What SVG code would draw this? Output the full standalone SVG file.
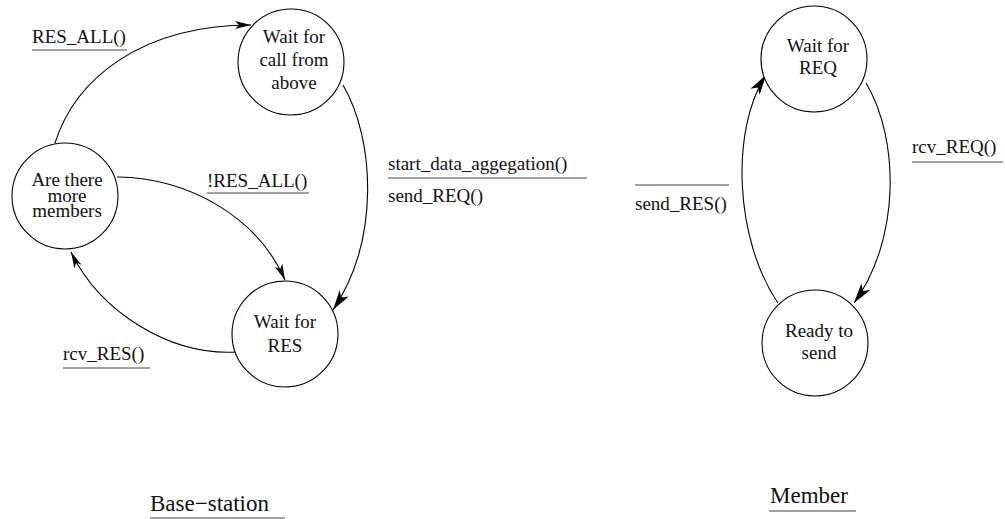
<svg xmlns="http://www.w3.org/2000/svg" width="1005" height="519" viewBox="0 0 1005 519">
  <style>
    text { font-family: "Liberation Serif", "Times New Roman", serif; font-size: 19px; fill: #111; }
    .title { font-size: 23px; }
    .state circle { fill: #fff; stroke: #000; stroke-width: 1.1; }
    .state text { text-anchor: middle; }
    .edge { fill: none; stroke: #000; stroke-width: 1.1; }
    .small { marker-end: url(#arrowS); }
    .big { marker-end: url(#arrowL); }
    .rule { stroke: #444; stroke-width: 1.2; }
  </style>
  <defs>
    <marker id="arrowS" markerUnits="userSpaceOnUse" markerWidth="24" markerHeight="16" refX="0" refY="0" viewBox="-20 -8 24 16" orient="auto">
      <path d="M0,0 L-16,-4 L-12,0 L-16,4 Z" fill="#000"/>
    </marker>
    <marker id="arrowL" markerUnits="userSpaceOnUse" markerWidth="28" markerHeight="20" refX="0" refY="0" viewBox="-24 -10 28 20" orient="auto">
      <path d="M0,0 L-20,-5.5 L-15,0 L-20,5.5 Z" fill="#000"/>
    </marker>
  </defs>

  <!-- transitions -->
  <g id="connectors">
    <path class="edge small" d="M55,143 C75,80 140,25 251,25"/>
    <path class="edge big" d="M343,85 C375,140 380,240 333,310"/>
    <path class="edge small" d="M117,177 C190,178 258,218 285,280"/>
    <path class="edge small" d="M237,352 C170,356 100,312 71,252"/>
    <path class="edge big" d="M866,83 C900,140 900,240 854,303"/>
    <path class="edge big" d="M778,303 C735,240 730,130 766,75"/>
  </g>

  <!-- base-station states -->
  <g id="wait-call" class="state">
    <circle cx="291" cy="62" r="53"/>
    <text x="294" y="43">Wait for</text>
    <text x="294" y="66">call from</text>
    <text x="294" y="89">above</text>
  </g>
  <g id="more-members" class="state">
    <circle cx="65" cy="196" r="53"/>
    <text x="67" y="186">Are there</text>
    <text x="67" y="201.5">more</text>
    <text x="67" y="217">members</text>
  </g>
  <g id="wait-res" class="state">
    <circle cx="285" cy="334" r="53"/>
    <text x="285" y="328">Wait for</text>
    <text x="285" y="352">RES</text>
  </g>

  <!-- member states -->
  <g id="wait-req" class="state">
    <circle cx="814" cy="59" r="53"/>
    <text x="818" y="52">Wait for</text>
    <text x="818" y="74">REQ</text>
  </g>
  <g id="ready-send" class="state">
    <circle cx="815" cy="343" r="53"/>
    <text x="819" y="337">Ready to</text>
    <text x="819" y="359">send</text>
  </g>

  <!-- transition labels -->
  <g id="labels">
    <text x="32" y="43">RES_ALL()</text>
    <line class="rule" x1="32" y1="50" x2="127" y2="50"/>

    <text x="207" y="187">!RES_ALL()</text>
    <line class="rule" x1="207" y1="193" x2="309" y2="193"/>

    <text x="63" y="360">rcv_RES()</text>
    <line class="rule" x1="63" y1="368" x2="150" y2="368"/>

    <text x="388" y="170">start_data_aggegation()</text>
    <line class="rule" x1="388" y1="178" x2="587" y2="178"/>
    <text x="388" y="202">send_REQ()</text>

    <line class="rule" x1="635" y1="185" x2="729" y2="185"/>
    <text x="635" y="210">send_RES()</text>

    <text x="912" y="153">rcv_REQ()</text>
    <line class="rule" x1="912" y1="162" x2="1003" y2="162"/>
  </g>

  <!-- section titles -->
  <g id="titles">
    <text class="title" x="150" y="510.5">Base−station</text>
    <line class="rule" x1="150" y1="518" x2="285" y2="518"/>
    <text class="title" x="770" y="502.5">Member</text>
    <line class="rule" x1="769" y1="511" x2="856" y2="511"/>
  </g>
</svg>
